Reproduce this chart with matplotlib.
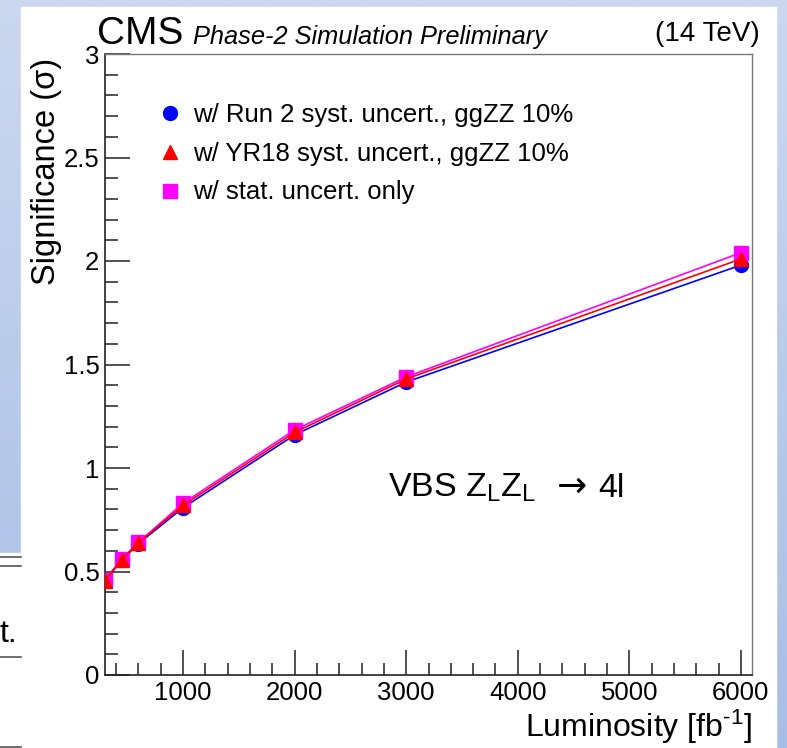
import matplotlib
matplotlib.use("Agg")
import matplotlib.pyplot as plt
import numpy as np
from matplotlib.ticker import MultipleLocator

plt.rcParams['font.family'] = ['Liberation Sans', 'DejaVu Sans']
plt.rcParams['mathtext.fontset'] = 'custom'
plt.rcParams['mathtext.rm'] = 'Liberation Sans'
plt.rcParams['mathtext.it'] = 'Liberation Sans:italic'

# Data
lumi = [300, 450, 600, 1000, 2000, 3000, 6000]
sig_run2 = [0.455, 0.555, 0.635, 0.808, 1.160, 1.415, 1.980]
sig_yr18 = [0.456, 0.557, 0.638, 0.820, 1.172, 1.430, 2.010]
sig_stat = [0.460, 0.560, 0.641, 0.830, 1.184, 1.440, 2.040]
labels = ['w/ Run 2 syst. uncert., ggZZ 10%',
          'w/ YR18 syst. uncert., ggZZ 10%',
          'w/ stat. uncert. only']

W, H = 787, 748
fig = plt.figure(figsize=(W / 100, H / 100), dpi=100)

# slide background behind the plot
bg = fig.add_axes([0, 0, 1, 1], zorder=-5)
grad = np.linspace(0, 1, 256).reshape(-1, 1)
cmap = matplotlib.colors.LinearSegmentedColormap.from_list('slide', ['#cbd8ef', '#a9bee6'])
bg.imshow(grad, cmap=cmap, aspect='auto', extent=[0, W, H, 0])
bg.add_patch(plt.Rectangle((21, 7), 755, H - 7, color='white'))
bg.add_patch(plt.Rectangle((0, 553), 21, H - 553, color='white'))
for yy in [557, 566, 657, 747]:
    bg.plot([0, 21], [yy, yy], color='#555555', lw=1.2)
bg.text(0, 642, 't.', fontsize=23, color='black', va='baseline', ha='left')
bg.set_xlim(0, W)
bg.set_ylim(H, 0)
bg.axis('off')

ax = fig.add_axes([105 / W, (H - 675) / H, (752 - 105) / W, (675 - 54) / H])

ax.plot(lumi, sig_run2, color='#0000ff', lw=1.2, marker='o', ms=10, mec='#0000ff',
        mfc='#0000ff', label=labels[0], zorder=3)
ax.plot(lumi, sig_stat, color='#ff00ff', lw=1.2, marker='s', ms=10, mec='#ff00ff',
        mfc='#ff00ff', label=labels[2], zorder=4)
ax.plot(lumi, sig_yr18, color='#ff0000', lw=1.2, marker='^', ms=10.5, mec='#ff0000',
        mfc='#ff0000', label=labels[1], zorder=5)

ax.set_xlim(300, 6100)
ax.set_ylim(0, 3)
ax.xaxis.set_major_locator(MultipleLocator(1000))
ax.xaxis.set_minor_locator(MultipleLocator(200))
ax.yaxis.set_minor_locator(MultipleLocator(0.1))
ax.set_yticks([0, 0.5, 1, 1.5, 2, 2.5, 3])
ax.set_yticklabels(['0', '0.5', '1', '1.5', '2', '2.5', '3'])
ax.tick_params(which='both', direction='in', top=False, right=False, labelsize=18.5,
               color='#222222', width=1.1)
ax.tick_params(which='major', length=18, pad=4)
ax.tick_params(which='minor', length=9)
for s in ['left', 'bottom']:
    ax.spines[s].set_color('#222222')
    ax.spines[s].set_linewidth(1.2)
for s in ['top', 'right']:
    ax.spines[s].set_color('#777777')
    ax.spines[s].set_linewidth(1.0)

h, l = ax.get_legend_handles_labels()
order = [0, 2, 1]
leg = ax.legend([h[i] for i in order], [l[i] for i in order], frameon=False,
                fontsize=18.5, loc='upper left', bbox_to_anchor=(0.045, 0.958),
                handlelength=1.0, handletextpad=0.4, labelspacing=0.57)
for hh in leg.legend_handles:
    hh.set_linestyle('')

# process label, with the wider DejaVu arrow
ax.text(0.4374, 0.2866, 'VBS Z$_{\\rm L}$Z$_{\\rm L}$', transform=ax.transAxes,
        fontsize=24.5, va='baseline', ha='left')
ax.text(0.7218, 0.2866, '\u2192', transform=ax.transAxes, family='DejaVu Sans',
        fontsize=26, va='baseline', ha='center')
ax.text(0.762, 0.2866, '4l', transform=ax.transAxes,
        fontsize=24.5, va='baseline', ha='left')

ax.set_xlabel('Luminosity [fb$^{\\text{-}1}$]', fontsize=23, ha='right', x=1.0, labelpad=2)
ax.set_ylabel('Significance (\u03c3)', fontsize=23.5, ha='right', y=0.994, labelpad=1)

fig.text(97 / W, (H - 44) / H, 'CMS', fontsize=28, va='baseline', ha='left')
fig.text(193 / W, (H - 44) / H, 'Phase-2 Simulation Preliminary', fontsize=18.3,
         style='italic', va='baseline', ha='left')
fig.text(760 / W, (H - 41) / H, '(14 TeV)', fontsize=20, va='baseline', ha='right')

fig.savefig('out.png', dpi=100)
